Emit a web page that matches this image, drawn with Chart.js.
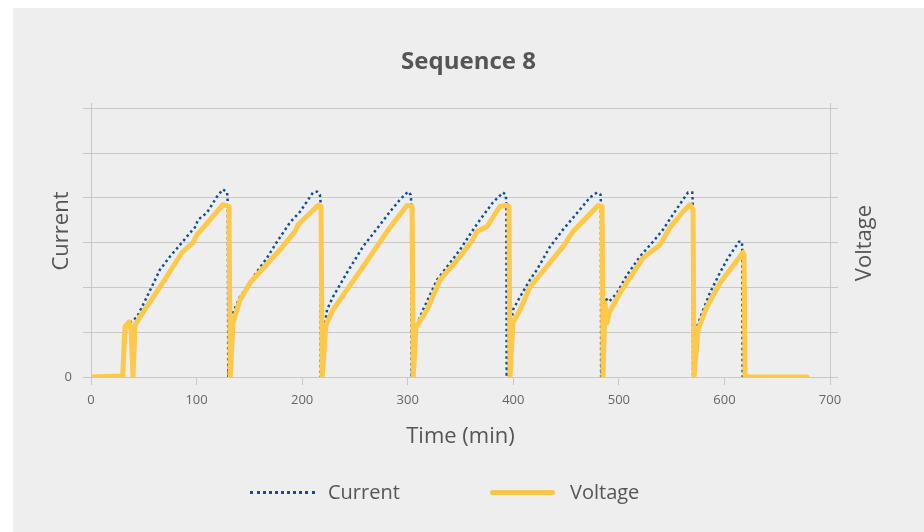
<!DOCTYPE html>
<html>
<head>
<meta charset="utf-8">
<script src="https://cdn.jsdelivr.net/npm/chart.js@4"></script>
<style>
  html, body { margin: 0; padding: 0; background: #fff; overflow: hidden; }
  #wrap { position: absolute; left: 13px; top: 8px; width: 911px; height: 524px; background: #eeeeee; }
  #legend { position: absolute; left: 237px; top: 470px; height: 28px; font-family: "Open Sans", sans-serif; font-size: 20px; color: #555; }
  .item { position: absolute; top: 0; line-height: 28px; white-space: nowrap; }
  .dots { position: absolute; top: 13px; width: 65px; height: 0; border-top: 3px dotted #0d4f9c; }
  .solid { position: absolute; top: 12px; width: 65px; height: 5px; border-radius: 3px; background: #f5c54c; }
</style>
</head>
<body>
<div id="wrap">
  <canvas id="seqChart"></canvas>
  <div id="legend">
    <div class="dots" style="left:0px"></div>
    <div class="item" style="left:78px">Current</div>
    <div class="solid" style="left:240px"></div>
    <div class="item" style="left:320px">Voltage</div>
  </div>
</div>
<script>
var xTicks = [0, 100, 200, 300, 400, 500, 600, 700];

var currentTime = [
  0, 30.3, 33.2, 43.6, 53.0, 65.4, 74.8, 84.3, 93.8, 98.5, 101.4, 109.9, 119.4, 125.0, 128.9, 129.6, 130.0,
  134.5, 141.1, 147.8, 157.2, 166.7, 176.2, 188.5, 198.0, 210.3, 214.1, 216.8, 217.4, 217.6,
  220.7, 223.6, 229.2, 242.5, 257.6, 273.8, 283.2, 292.7, 300.3, 302.8, 303.4, 303.6,
  307.9, 314.5, 327.7, 337.2, 349.5, 360.9, 368.5, 380.8, 390.3, 392.8, 393.4, 393.7,
  397.8, 399.7, 406.4, 415.8, 422.5, 434.8, 447.1, 463.2, 472.7, 479.3, 482.6, 483.0, 483.2,
  486.9, 490.7, 498.3, 507.7, 520.0, 532.3, 541.8, 551.3, 560.8, 565.5, 569.5, 569.9, 570.2,
  574.0, 578.7, 586.3, 595.8, 603.4, 610.0, 613.8, 616.5, 616.9, 617.2, 678.2
];
var current = [
  0, 0, 1.14, 1.34, 1.79, 2.40, 2.69, 2.95, 3.22, 3.34, 3.51, 3.67, 4.03, 4.19, 4.12, 3.90, 0,
  1.43, 1.79, 2.01, 2.35, 2.66, 3.02, 3.45, 3.69, 4.12, 4.14, 4.07, 3.92, 0,
  1.05, 1.50, 1.79, 2.33, 2.91, 3.40, 3.69, 3.96, 4.14, 4.07, 3.90, 0,
  1.12, 1.50, 2.17, 2.46, 2.84, 3.25, 3.51, 3.90, 4.12, 4.07, 3.90, 0,
  1.12, 1.50, 1.79, 2.17, 2.40, 2.91, 3.29, 3.74, 4.01, 4.12, 4.07, 3.92, 0,
  1.77, 1.68, 1.88, 2.28, 2.69, 3.02, 3.29, 3.63, 3.96, 4.12, 4.12, 3.96, 0,
  1.12, 1.43, 1.88, 2.33, 2.66, 2.89, 3.02, 3.02, 2.89, 0, 0
];

var voltageTime = [
  0, 30, 32.2, 36.0, 37.9, 39.8, 41.7, 46.4, 65.4, 86.2, 96.6, 100.4, 103.3, 125.0, 130.7, 131.9,
  134.5, 141.1, 150.6, 160.1, 179.0, 193.2, 196.1, 215.0, 217.9, 219.0,
  222.6, 229.2, 242.5, 257.6, 283.2, 299.3, 304.1, 305.2,
  307.9, 318.3, 330.6, 349.5, 361.8, 365.6, 375.1, 387.4, 393.1, 395.9, 396.9,
  399.7, 406.4, 415.8, 447.1, 456.6, 480.3, 484.1, 485.0,
  486.9, 488.8, 490.7, 501.1, 522.9, 539.0, 548.5, 560.8, 567.4, 570.3, 571.2,
  575.0, 583.5, 595.8, 617.6, 618.6, 619.5, 678.2
];
var voltage = [
  0, 0.02, 1.12, 1.23, 1.05, 0, 1.16, 1.34, 2.01, 2.78, 3.00, 3.18, 3.25, 3.85, 3.81, 0,
  1.21, 1.72, 2.10, 2.35, 2.84, 3.25, 3.40, 3.83, 3.81, 0,
  1.16, 1.50, 1.95, 2.46, 3.34, 3.83, 3.81, 0,
  1.12, 1.50, 2.17, 2.69, 3.07, 3.25, 3.36, 3.81, 3.83, 3.81, 0,
  1.21, 1.50, 2.01, 2.91, 3.25, 3.83, 3.81, 0,
  1.66, 1.21, 1.43, 1.88, 2.66, 2.95, 3.34, 3.69, 3.85, 3.74, 0,
  1.05, 1.57, 2.10, 2.78, 2.73, 0, 0
];

function toPoints(xs, ys) {
  return xs.map(function (x, i) { return { x: x, y: ys[i] }; });
}

var gridColor = "#c8c8c8";
var fontFamily = "'Open Sans', sans-serif";

// both axis titles read bottom-to-top, so draw them by hand
var axisTitles = {
  id: "axisTitles",
  afterDraw: function (chart) {
    var ctx = chart.ctx;
    [["Current", 49, 223], ["Voltage", 852, 235]].forEach(function (t) {
      ctx.save();
      ctx.translate(t[1], t[2]);
      ctx.rotate(-Math.PI / 2);
      ctx.font = "22px " + fontFamily;
      ctx.fillStyle = "#555";
      ctx.textAlign = "center";
      ctx.textBaseline = "middle";
      ctx.fillText(t[0], 0, 0);
      ctx.restore();
    });
  }
};

new Chart("seqChart", {
  type: "line",
  data: {
    datasets: [{
      label: "Current",
      data: toPoints(currentTime, current),
      borderColor: "#0d4f9c",
      borderWidth: 2.5,
      borderDash: [2.5, 3],
      pointRadius: 0,
      tension: 0,
      order: 2,
      yAxisID: "y"
    }, {
      label: "Voltage",
      data: toPoints(voltageTime, voltage),
      borderColor: "#fec84a",
      borderWidth: 5,
      borderJoinStyle: "round",
      borderCapStyle: "round",
      pointRadius: 0,
      tension: 0,
      order: 1,
      yAxisID: "y1"
    }]
  },
  options: {
    responsive: true,
    maintainAspectRatio: false,
    animation: false,
    layout: { padding: { left: 0, right: 0, top: 0, bottom: 75 } },
    plugins: {
      legend: { display: false },
      tooltip: { enabled: false },
      title: {
        display: true,
        text: "Sequence 8",
        color: "#555",
        font: { family: fontFamily, size: 24, weight: "bold", lineHeight: 1.2 },
        padding: { top: 40, bottom: 27 }
      }
    },
    scales: {
      x: {
        type: "linear",
        min: 0,
        max: 700,
        afterBuildTicks: function (scale) {
          scale.ticks = xTicks.map(function (v) { return { value: v }; });
        },
        afterFit: function (scale) { scale.height = 80; },
        ticks: { color: "#666", padding: 7, font: { family: fontFamily, size: 13 } },
        grid: { drawOnChartArea: false, color: gridColor, tickLength: 8 },
        border: { color: gridColor },
        title: {
          display: true,
          text: "Time (min)",
          color: "#555",
          font: { family: fontFamily, size: 22, lineHeight: 1.2 },
          padding: { top: 0, bottom: 7 }
        }
      },
      y: {
        position: "left",
        min: 0,
        max: 6.1,
        afterFit: function (scale) { scale.width = 78; },
        ticks: {
          stepSize: 1,
          includeBounds: false,
          color: "#666",
          padding: 11,
          font: { family: fontFamily, size: 13 },
          callback: function (v) { return v === 0 ? "0" : ""; }
        },
        grid: { color: gridColor, tickLength: 8 },
        border: { color: gridColor }
      },
      y1: {
        position: "right",
        min: 0,
        max: 6.1,
        afterFit: function (scale) { scale.width = 94; },
        ticks: {
          stepSize: 1,
          includeBounds: false,
          callback: function () { return ""; }
        },
        grid: { drawOnChartArea: false, color: gridColor, tickLength: 8 },
        border: { color: gridColor }
      }
    }
  },
  plugins: [axisTitles]
});
</script>
</body>
</html>
